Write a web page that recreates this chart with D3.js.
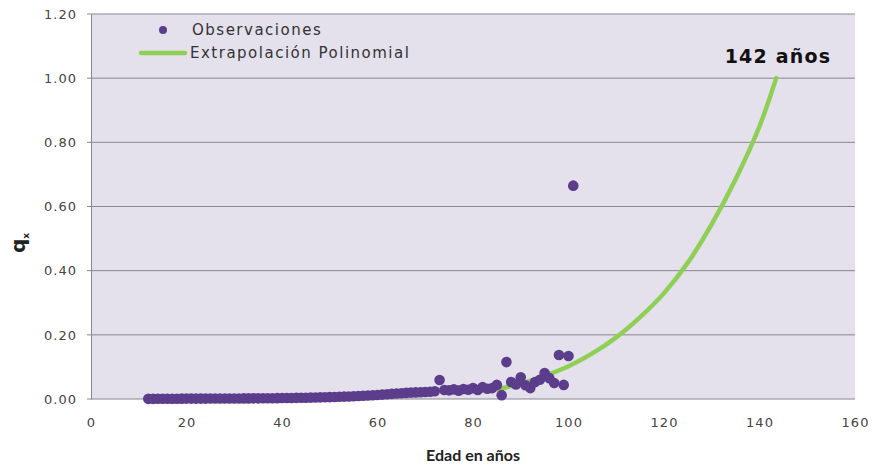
<!doctype html>
<html>
<head>
    <meta charset="utf-8">
    <style>
        body { margin: 0; background: #fff; }
        .tick text { font-family: "DejaVu Sans", sans-serif; font-size: 13px; fill: #444; letter-spacing: 1px; }
        .legend text { font-family: "DejaVu Sans", sans-serif; font-size: 15px; fill: #333; letter-spacing: 1.5px; }
    </style>
    <script src="https://d3js.org/d3.v7.min.js"></script>
</head>
<body>
<svg width="886" height="470" class="chart"></svg>
<script>

    // observed qx by age
    var obsAge = [12, 13, 14, 15, 16, 17, 18, 19, 20, 21, 22, 23, 24, 25, 26, 27, 28, 29, 30,
                  31, 32, 33, 34, 35, 36, 37, 38, 39, 40, 41, 42, 43, 44, 45, 46, 47, 48, 49, 50,
                  51, 52, 53, 54, 55, 56, 57, 58, 59, 60, 61, 62, 63, 64, 65, 66, 67, 68, 69, 70,
                  71, 72, 73, 74, 75, 76, 77, 78, 79, 80, 81, 82, 83, 84, 85, 86, 87, 88, 89, 90,
                  91, 92, 93, 94, 95, 96, 97, 98, 99, 100, 101];
    var obsQx = [0.0005, 0.0005, 0.0006, 0.0007, 0.0008, 0.0009, 0.0010, 0.0011, 0.0012, 0.0012,
                 0.0013, 0.0013, 0.0013, 0.0014, 0.0014, 0.0015, 0.0015, 0.0016, 0.0017,
                 0.0017, 0.0018, 0.0019, 0.0020, 0.0021, 0.0022, 0.0024, 0.0025, 0.0027, 0.0029,
                 0.0031, 0.0033, 0.0035, 0.0038, 0.0041, 0.0044, 0.0047, 0.0051, 0.0055, 0.0059,
                 0.0064, 0.0069, 0.0075, 0.0080, 0.0087, 0.0094, 0.0101, 0.0109, 0.0118, 0.0127,
                 0.0137, 0.0148, 0.0160, 0.0172, 0.0180, 0.0190, 0.0200, 0.0205, 0.0210, 0.0220,
                 0.0225, 0.0240, 0.0590, 0.0280, 0.0270, 0.0300, 0.0260, 0.0310, 0.0290, 0.0340,
                 0.0280, 0.0370, 0.0320, 0.0340, 0.0440, 0.0120, 0.1150, 0.0530, 0.0450, 0.0680,
                 0.0430, 0.0340, 0.0530, 0.0600, 0.0810, 0.0650, 0.0500, 0.1370, 0.0440, 0.1340, 0.6650];

    // polynomial extrapolation
    var fitAge = [85, 90, 95, 100, 105, 110, 115, 120, 125, 130, 135, 140, 143.5];
    var fitQx = [0.030, 0.048, 0.072, 0.102, 0.142, 0.192, 0.255, 0.330, 0.425, 0.545, 0.685, 0.850, 1.000];

    var xTicks = [0, 20, 40, 60, 80, 100, 120, 140, 160];
    var yTicks = [0, 0.2, 0.4, 0.6, 0.8, 1.0, 1.2];

    var svg = d3.select(".chart"),
        plotL = 91, plotR = 855, plotT = 14, plotB = 399;

    var x = d3.scaleLinear().domain([0, 160]).range([plotL, plotR]),
        y = d3.scaleLinear().domain([0, 1.2]).range([plotB, plotT]);

    svg.append("rect")
       .attr("x", plotL).attr("y", plotT)
       .attr("width", plotR - plotL).attr("height", plotB - plotT)
       .attr("fill", "#e4e0ec");

    // gridlines
    svg.append("g")
       .selectAll("line")
       .data(yTicks)
       .enter().append("line")
       .attr("x1", plotL - 4).attr("x2", plotR)
       .attr("y1", function(d) { return y(d); })
       .attr("y2", function(d) { return y(d); })
       .attr("stroke", "#8a8690")
       .attr("stroke-width", 1);

    var yAxis = svg.append("g")
       .attr("transform", "translate(" + plotL + ",0)")
       .call(d3.axisLeft(y).tickValues(yTicks).tickFormat(d3.format(".2f")).tickSize(0).tickPadding(14));
    yAxis.select(".domain").attr("stroke", "#8a8690");

    var xAxis = svg.append("g")
       .attr("transform", "translate(0," + plotB + ")")
       .call(d3.axisBottom(x).tickValues(xTicks).tickSize(0).tickPadding(19));
    xAxis.select(".domain").remove();

    // fitted curve
    var line = d3.line()
        .x(function(d) { return x(d[0]); })
        .y(function(d) { return y(d[1]); })
        .curve(d3.curveCatmullRom);

    svg.append("path")
       .datum(d3.zip(fitAge, fitQx))
       .attr("d", line)
       .attr("fill", "none")
       .attr("stroke", "#8fcf55")
       .attr("stroke-width", 4.5)
       .attr("stroke-linecap", "round");

    // observations
    svg.append("g")
       .selectAll("circle")
       .data(d3.zip(obsAge, obsQx))
       .enter().append("circle")
       .attr("cx", function(d) { return x(d[0]); })
       .attr("cy", function(d) { return y(d[1]); })
       .attr("r", 5.3)
       .attr("fill", "#5b3d8c");

    // legend
    var legend = svg.append("g").attr("class", "legend");
    legend.append("circle").attr("cx", 163).attr("cy", 30).attr("r", 4).attr("fill", "#5b3d8c");
    legend.append("text").attr("x", 192).attr("y", 35).text("Observaciones");
    legend.append("line").attr("x1", 141).attr("x2", 185).attr("y1", 53).attr("y2", 53)
          .attr("stroke", "#8fcf55").attr("stroke-width", 4.5).attr("stroke-linecap", "round");
    legend.append("text").attr("x", 190).attr("y", 58).text("Extrapolación Polinomial");

    svg.append("text")
       .attr("x", 778).attr("y", 63)
       .attr("text-anchor", "middle")
       .attr("font-family", "DejaVu Sans, sans-serif")
       .attr("font-weight", "bold")
       .attr("font-size", "19px")
       .attr("letter-spacing", "1.2px")
       .attr("fill", "#111")
       .text("142 años");

    svg.append("text")
       .attr("x", (plotL + plotR) / 2).attr("y", 461)
       .attr("text-anchor", "middle")
       .attr("font-family", "Lato, sans-serif")
       .attr("font-weight", "bold")
       .attr("font-size", "16px")
       .attr("fill", "#222")
       .text("Edad en años");

    var yTitle = svg.append("text")
       .attr("transform", "translate(25,243) rotate(-90)")
       .attr("text-anchor", "middle")
       .attr("font-family", "DejaVu Sans, sans-serif")
       .attr("font-weight", "bold")
       .attr("font-size", "20px")
       .attr("fill", "#222");
    yTitle.append("tspan").text("q");
    yTitle.append("tspan").attr("font-size", "9px").attr("dy", "4").text("x");

</script>
</body>
</html>
